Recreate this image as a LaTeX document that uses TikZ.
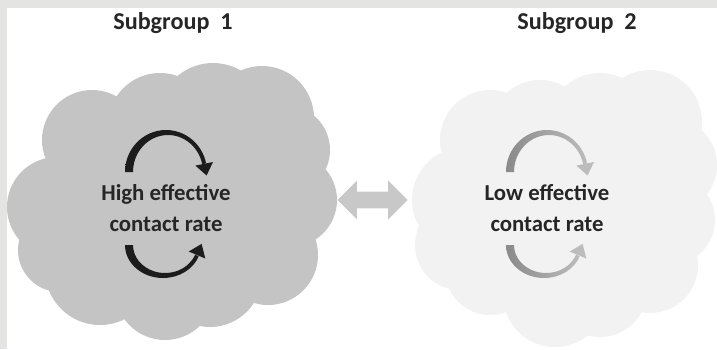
\documentclass[tikz,border=0pt]{standalone}
\usepackage{fontspec}
\setmainfont{Carlito}
\usepackage{tikz}
\usetikzlibrary{arrows,shapes.arrows,positioning}

\definecolor{framegray}{RGB}{228,228,227}
\definecolor{darkcloud}{RGB}{196,196,196}
\definecolor{lightcloud}{RGB}{242,242,242}
\definecolor{linkgray}{RGB}{200,200,200}
\definecolor{inkblack}{RGB}{28,28,28}
\definecolor{softdark}{RGB}{138,138,138}
\definecolor{softlight}{RGB}{188,188,188}
\definecolor{txtgray}{RGB}{38,38,38}

\begin{document}
\begin{tikzpicture}[x=1pt,y=1pt,semithick]
		\tikzstyle{title}=[font=\fontsize{24.2}{28}\selectfont\bfseries,text=txtgray,inner sep=0pt]
		\tikzstyle{rate}=[font=\fontsize{22.8}{31}\selectfont\bfseries,text=txtgray,align=center,inner sep=0pt]

		% frame and page
		\fill[framegray] (0,0) rectangle (717,349);
		\fill[white] (7,0) rectangle (717,341);
		\useasboundingbox (0,0) rectangle (717,349);
		\clip (0,0) rectangle (717,349);

		% clouds
		\foreach \cx/\cy/\r in {175/149/110,57/142/50,92/209/50,160/224/52,213/231/55,262/231/52,
			285/199/45,290/149/47,268/94/50,210/74/52,165/59/50,100/79/55,60/99/42}
			\fill[darkcloud] (\cx,\cy) circle (\r);
		\foreach \cx/\cy/\r in {565/144/100,465/149/53,490/209/50,540/219/50,600/224/52,650/227/52,
			670/184/47,670/129/45,650/84/48,600/59/47,555/54/52,490/79/45,460/104/45}
			\fill[lightcloud] (\cx,\cy) circle (\r);

		\node[title] (sub1) at (173,326) {Subgroup~~1};
		\node[title] (sub2) at (577,326) {Subgroup~~2};

		\node[rate] (high) at (166,141) {High effective\\contact rate};
		\node[rate] (low) at (547,141) {Low effective\\contact rate};

		\node[double arrow,fill=linkgray,minimum height=70pt,minimum width=38pt,
			double arrow head extend=11pt,inner xsep=0pt,inner ysep=8pt] (link) at (372.5,149) {};

		% turning arrows round each rate
		\foreach \n/\ca/\cb in {high/inkblack/inkblack,low/softdark/softlight}{
			\begin{scope}[shift={(\n.center)}]
				\shade[left color=\ca,right color=\cb]
					(-41,36) arc[start angle=180,end angle=12,x radius=41,y radius=42]
					-- (36.23,43.69) arc[start angle=12,end angle=180,x radius=35,y radius=37] -- cycle;
				\fill[\cb] (29.4,42.4) -- (47,46) -- (40.6,32.5) -- cycle;
				\shade[left color=\ca,right color=\cb]
					(-41,-37) arc[start angle=180,end angle=340,x radius=38,y radius=33]
					-- (29.07,-46.58) arc[start angle=340,end angle=180,x radius=32,y radius=28] -- cycle;
				\fill[\cb] (22.7,-43.5) -- (39.3,-50.5) -- (35.6,-35.9) -- cycle;
			\end{scope}
		}
	\end{tikzpicture}
\end{document}
